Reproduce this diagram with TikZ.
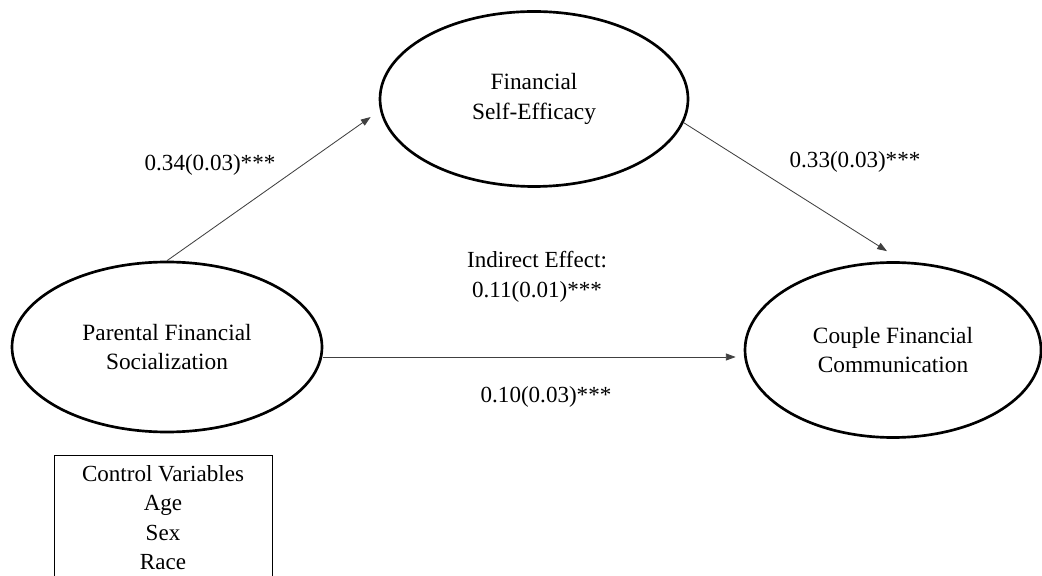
\documentclass[tikz,border=0pt]{standalone}
\usepackage{fontspec}
\setmainfont{Liberation Serif}
\usetikzlibrary{positioning,arrows.meta,shapes.geometric}

\begin{document}
\begin{tikzpicture}[>={Triangle[length=7pt,width=5pt]},
  latent/.style={ellipse,draw,line width=1.9pt,inner sep=0pt,align=center,
    font=\fontsize{16.6}{21}\selectfont},
  path/.style={->,draw=black!75,line width=0.6pt},
  coef/.style={font=\fontsize{16.4}{21}\selectfont,align=center}]
  \useasboundingbox (0,0) rectangle (26.05,14.375);
  \clip (0,0) rectangle (26.05,14.375);
  \node[latent,minimum width=7.7cm,minimum height=4.375cm] (fse) at (13.35,11.9) {Financial\\Self-Efficacy};
  \node[latent,minimum width=7.75cm,minimum height=4.25cm] (pfs) at (4.175,5.7) {Parental Financial\\Socialization};
  \node[latent,minimum width=7.4cm,minimum height=4.375cm] (cfc) at (22.325,5.625) {Couple Financial\\Communication};
  \draw[path] (pfs.north) -- ([shift={(-0.2,-0.45)}]fse.west);
  \draw[path] (fse.-9) -- ([shift={(-0.15,0.25)}]cfc.north);
  \draw[path] ([yshift=-0.25cm]pfs.east) -- ([shift={(-0.2,-0.175)}]cfc.west);
  \node[coef] (a) at (5.25,10.25) {0.34(0.03)***};
  \node[coef] (b) at (21.375,10.33) {0.33(0.03)***};
  \node[coef] (ind) at (13.425,7.45) {Indirect Effect:\\0.11(0.01)***};
  \node[coef] (c) at (13.65,4.45) {0.10(0.03)***};
  \node[coef,draw,line width=0.6pt,anchor=north,minimum width=5.45cm,inner xsep=4pt,inner ysep=7pt] (ctrl) at (4.075,3.0)
    {Control Variables\\Age\\Sex\\Race\\ };
\end{tikzpicture}
\end{document}
